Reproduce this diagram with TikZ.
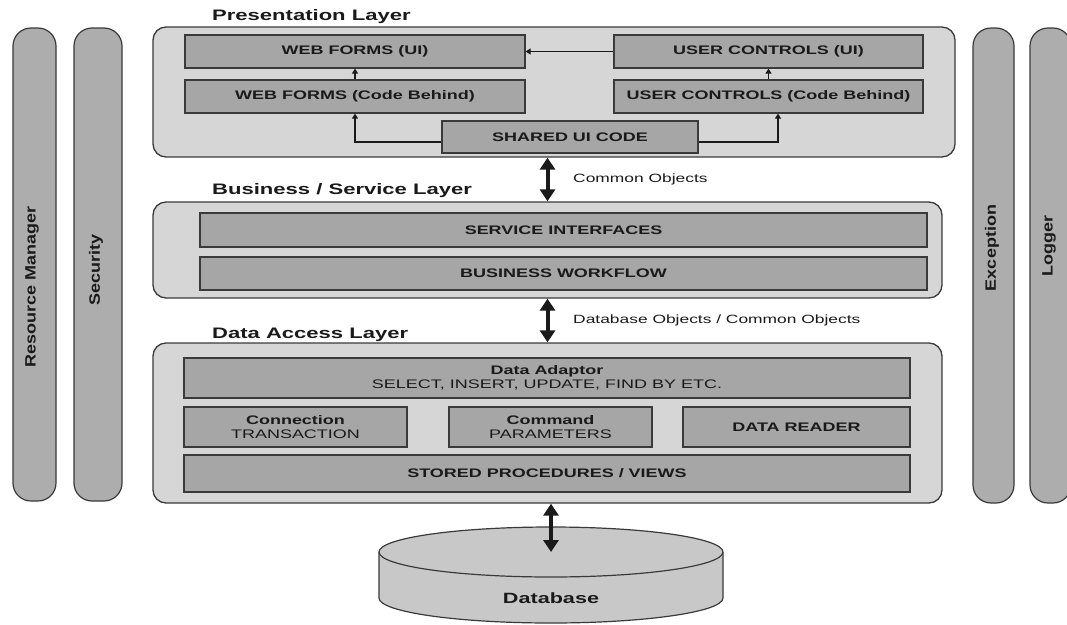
\documentclass[tikz,border=0pt]{standalone}
\usepackage{fontspec}
\setmainfont{Liberation Sans}
\newfontfamily\hfont[FakeStretch=1.45]{Liberation Sans}
\newfontfamily\vfont[FakeStretch=1.2]{Liberation Sans}
\usetikzlibrary{arrows.meta}
\definecolor{layerfill}{HTML}{D6D6D6}
\definecolor{boxfill}{HTML}{A6A6A6}
\definecolor{pillarfill}{HTML}{ADADAD}
\definecolor{dbfill}{HTML}{C8C8C8}
\definecolor{edge}{HTML}{3A3A3A}
\definecolor{txt}{HTML}{1A1A1A}
\begin{document}
\begin{tikzpicture}[x=1pt,y=-1pt,
  layer/.style={draw=edge, fill=layerfill, line width=1.3pt, rounded corners=13pt, inner sep=0pt},
  ibox/.style={draw=edge, fill=boxfill, line width=1.2pt, inner sep=0pt, text=txt, align=center,
     font=\hfont\bfseries\fontsize{12.4}{14}\selectfont},
  pillar/.style={draw=edge, fill=pillarfill, line width=1.2pt, rounded corners=18pt, inner sep=0pt},
  pillartext/.style={rotate=90, text=txt, inner sep=0pt, font=\vfont\bfseries\fontsize{15}{17}\selectfont},
  ltitle/.style={anchor=west, inner sep=0pt, text=txt, font=\hfont\bfseries\fontsize{15.2}{18}\selectfont},
  lbl/.style={anchor=west, inner sep=0pt, text=txt, font=\hfont\fontsize{12}{14}\selectfont},
  bigarrow/.style={line width=4pt, txt, {Triangle[width=15pt,length=12pt]}-{Triangle[width=15pt,length=12pt]}},
  smallarrow/.style={line width=1.2pt, txt, -{Triangle[width=6pt,length=5pt]}}
]
\useasboundingbox (0,0) rectangle (1067,624);

% side pillars
\node[pillar, minimum width=43, minimum height=473] (rm) at (34.5,264.5) {};
\node[pillar, minimum width=48, minimum height=473] (sec) at (98,264.5) {};
\node[pillar, minimum width=41, minimum height=475] (exc) at (993.5,265.5) {};
\node[pillar, minimum width=41, minimum height=475] (log) at (1050.5,265.5) {};
\node[pillartext] (rmt) at (32,287) {Resource Manager};
\node[pillartext] (sect) at (96,270) {Security};
\node[pillartext] (exct) at (992,248) {Exception};
\node[pillartext] (logt) at (1049,246) {Logger};

% presentation layer
\node[layer, minimum width=802, minimum height=130] (pres) at (554,92) {};
\node[ltitle] (prest) at (212,17) {Presentation Layer};
\node[ibox, minimum width=340, minimum height=33] (wfui) at (355,51.5) {WEB FORMS (UI)};
\node[ibox, minimum width=340, minimum height=33] (wfcb) at (355,96.5) {WEB FORMS (Code Behind)};
\node[ibox, minimum width=309, minimum height=33] (ucui) at (768.5,51.5) {USER CONTROLS (UI)};
\node[ibox, minimum width=309, minimum height=33] (uccb) at (768.5,96.5) {USER CONTROLS (Code Behind)};
\node[ibox, minimum width=256, minimum height=32] (shared) at (570,137) {SHARED UI CODE};
\draw[smallarrow] (ucui.west) -- (wfui.east);
\draw[smallarrow] (wfcb.north) -- (wfui.south);
\draw[smallarrow] (uccb.north) -- (ucui.south);
\draw[smallarrow] ([yshift=-5pt]shared.west) -| (wfcb.south);
\draw[smallarrow] ([yshift=-5pt]shared.east) -| ([xshift=9.5pt]uccb.south);

% business layer
\node[layer, minimum width=789, minimum height=96] (bus) at (547.5,250) {};
\node[ltitle] (bust) at (212,191) {Business / Service Layer};
\node[ibox, minimum width=727, minimum height=34] (si) at (563.5,230) {SERVICE INTERFACES};
\node[ibox, minimum width=727, minimum height=33] (bw) at (563.5,273.5) {BUSINESS WORKFLOW};

% data access layer
\node[layer, minimum width=789, minimum height=160] (data) at (547.5,423) {};
\node[ltitle] (datat) at (212,335) {Data Access Layer};
\node[ibox, minimum width=726, minimum height=40] (da) at (547,378)
  {Data Adaptor\\\mdseries SELECT, INSERT, UPDATE, FIND BY ETC.};
\node[ibox, minimum width=223, minimum height=40] (conn) at (295.5,427) {Connection\\\mdseries TRANSACTION};
\node[ibox, minimum width=203, minimum height=40] (cmd) at (550.5,427) {Command\\\mdseries PARAMETERS};
\node[ibox, minimum width=227, minimum height=40] (dr) at (796.5,427) {DATA READER};
\node[ibox, minimum width=726, minimum height=37] (sp) at (547,473.5) {STORED PROCEDURES / VIEWS};

% database
\fill[dbfill] (379,552) -- (379,598) arc[start angle=180, end angle=360, x radius=172pt, y radius=25pt] -- (723,552) -- cycle;
\draw[edge, line width=1.2pt] (379,552) -- (379,598) arc[start angle=180, end angle=360, x radius=172pt, y radius=25pt] -- (723,552);
\draw[edge, fill=dbfill, line width=1.2pt] (551,552) ellipse [x radius=172pt, y radius=25pt];
\node[inner sep=0pt, text=txt, font=\hfont\bfseries\fontsize{14.9}{17}\selectfont] (db) at (551,598) {Database};
\coordinate (dbtop) at (551,552);

% inter-layer arrows
\draw[bigarrow] (pres.south -| bus.north) -- (bus.north);
\node[lbl] (co) at (573,179) {Common Objects};
\draw[bigarrow] (bus.south) -- (data.north);
\node[lbl] (dbo) at (573,320) {Database Objects / Common Objects};
\draw[bigarrow] (data.south -| dbtop) -- (dbtop);
\end{tikzpicture}
\end{document}
